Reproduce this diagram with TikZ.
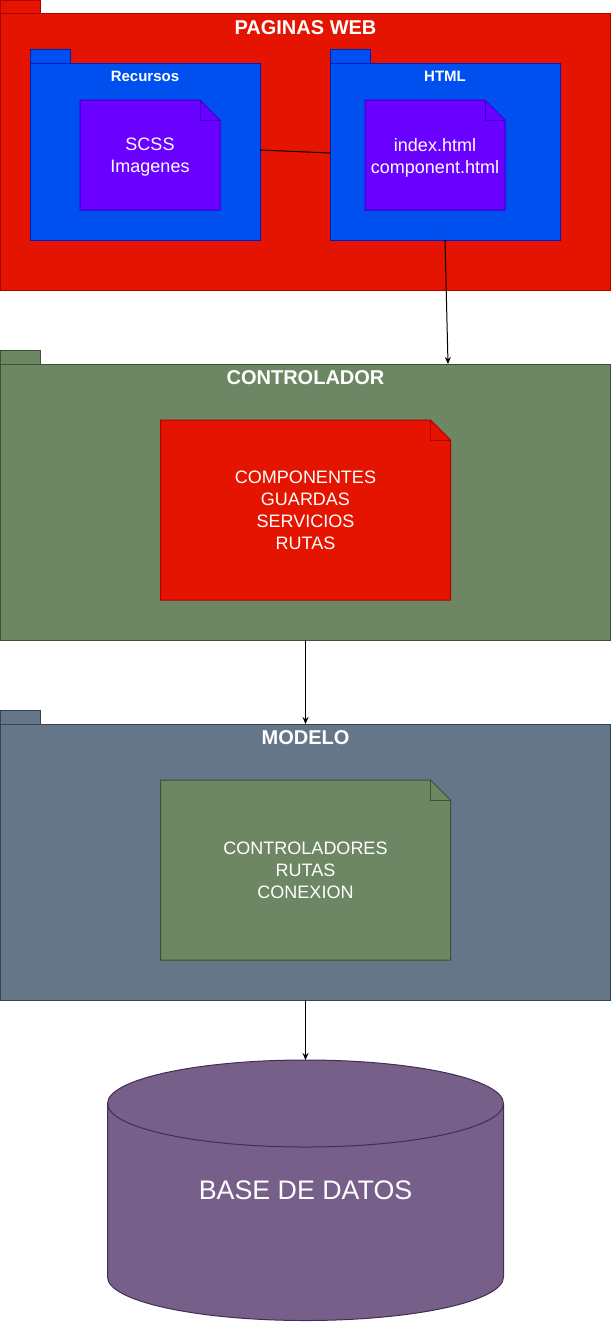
\documentclass[tikz,border=0pt]{standalone}
\usepackage{fontspec}
\setmainfont{Liberation Sans}
\usetikzlibrary{arrows.meta,calc}
\definecolor{redF}{HTML}{E51400}\definecolor{redS}{HTML}{B20000}
\definecolor{blueF}{HTML}{0050EF}\definecolor{blueS}{HTML}{001DBC}
\definecolor{purF}{HTML}{6A00FF}\definecolor{purS}{HTML}{3700CC}
\definecolor{grnF}{HTML}{6D8764}\definecolor{grnS}{HTML}{3A5431}
\definecolor{slaF}{HTML}{647687}\definecolor{slaS}{HTML}{314354}
\definecolor{cylF}{HTML}{76608A}\definecolor{cylS}{HTML}{432D57}
\tikzset{
  pkg/.style={rectangle,draw,inner sep=0pt,outer sep=0pt,anchor=north west,line width=1pt},
  notebox/.style={rectangle,inner sep=0pt,outer sep=0pt,anchor=north west},
  bigtitle/.style={text=white,font=\fontsize{20}{24}\selectfont\bfseries,inner sep=0pt},
  subtitle/.style={text=white,font=\fontsize{15}{18}\selectfont\bfseries,inner sep=0pt},
  notetext/.style={text=white,font=\fontsize{18}{22}\selectfont,align=center,inner sep=0pt},
  conn/.style={draw=black,line width=1pt},
  arr/.style={conn,-{Stealth[length=7pt,width=6pt]}}
}
\newcommand{\notepath}[3]{% node name, fill, stroke
  \draw[fill=#2,draw=#3,line width=1pt] (#1.north west) -- ([xshift=-20pt]#1.north east) -- ([yshift=-20pt]#1.north east) -- (#1.south east) -- (#1.south west) -- cycle;
  \draw[draw=#3,line width=1pt] ([xshift=-20pt]#1.north east) -- ([xshift=-20pt,yshift=-20pt]#1.north east) -- ([yshift=-20pt]#1.north east);
}
\begin{document}
\begin{tikzpicture}[x=1pt,y=-1pt]
\useasboundingbox (0,0) rectangle (611,1322);
% PAGINAS WEB
\node[pkg,fill=redF,draw=redS,minimum width=40pt,minimum height=14pt] (webtab) at (0.5,0.5) {};
\node[pkg,fill=redF,draw=redS,minimum width=610pt,minimum height=276pt] (web) at (0.5,14) {};
\node[bigtitle] (webt) at (305.5,28) {PAGINAS WEB};
% Recursos
\node[pkg,fill=blueF,draw=blueS,minimum width=40pt,minimum height=14pt] (rectab) at (30,50) {};
\node[pkg,fill=blueF,draw=blueS,minimum width=230pt,minimum height=176pt] (rec) at (30,64) {};
\node[subtitle] (rect) at (145,76) {Recursos};
\node[notebox,minimum width=140pt,minimum height=110pt] (scss) at (80,100) {};
\notepath{scss}{purF}{purS}
\node[notetext] (scsst) at ([yshift=-2.5pt]scss.center) {SCSS\\Imagenes};
% HTML
\node[pkg,fill=blueF,draw=blueS,minimum width=40pt,minimum height=14pt] (htmltab) at (330,50) {};
\node[pkg,fill=blueF,draw=blueS,minimum width=230pt,minimum height=176pt] (html) at (330,64) {};
\node[subtitle] (htmlt) at (445,76) {HTML};
\node[notebox,minimum width=140pt,minimum height=110pt] (idx) at (365,100) {};
\notepath{idx}{purF}{purS}
\node[notetext] (idxt) at ([yshift=-2.5pt]idx.center) {index.html\\component.html};
\draw[conn] ([yshift=2pt]rec.east) -- ([yshift=-1pt]html.west);
% CONTROLADOR
\node[pkg,fill=grnF,draw=grnS,minimum width=40pt,minimum height=14pt] (ctrltab) at (0.5,350) {};
\node[pkg,fill=grnF,draw=grnS,minimum width=610pt,minimum height=276pt] (ctrl) at (0.5,364) {};
\node[bigtitle] (ctrlt) at (305.5,378) {CONTROLADOR};
\node[notebox,minimum width=290pt,minimum height=180pt] (comp) at (160.5,420) {};
\notepath{comp}{redF}{redS}
\node[notetext] (compt) at ([yshift=-0.5pt]comp.center) {COMPONENTES\\GUARDAS\\SERVICIOS\\RUTAS};
\coordinate (ctrlin) at (448,364);
\draw[arr] (html.south) -- (ctrlin);
% MODELO
\node[pkg,fill=slaF,draw=slaS,minimum width=40pt,minimum height=14pt] (modtab) at (0.5,710) {};
\node[pkg,fill=slaF,draw=slaS,minimum width=610pt,minimum height=276pt] (mod) at (0.5,724) {};
\node[bigtitle] (modt) at (305.5,738) {MODELO};
\node[notebox,minimum width=290pt,minimum height=180pt] (ctl) at (160.5,780) {};
\notepath{ctl}{grnF}{grnS}
\node[notetext] (ctlt) at ([yshift=-0.5pt]ctl.center) {CONTROLADORES\\RUTAS\\CONEXION};
\draw[arr] (ctrl.south) -- (mod.north);
% BASE DE DATOS
\draw[fill=cylF,draw=cylS,line width=1pt] (107.5,1103.5) -- (107.5,1277) arc[start angle=180,end angle=360,x radius=198pt,y radius=43.5pt] -- (503.5,1103.5) arc[start angle=0,end angle=180,x radius=198pt,y radius=43.5pt] -- cycle;
\draw[draw=cylS,line width=1pt] (107.5,1103.5) arc[start angle=180,end angle=360,x radius=198pt,y radius=43.5pt];
\coordinate (dbtop) at (305.5,1060);
\node[text=white,font=\fontsize{26.8}{30}\selectfont,inner sep=0pt] (db) at (305.5,1190) {BASE DE DATOS};
\draw[arr] (mod.south) -- (dbtop);
\end{tikzpicture}
\end{document}
